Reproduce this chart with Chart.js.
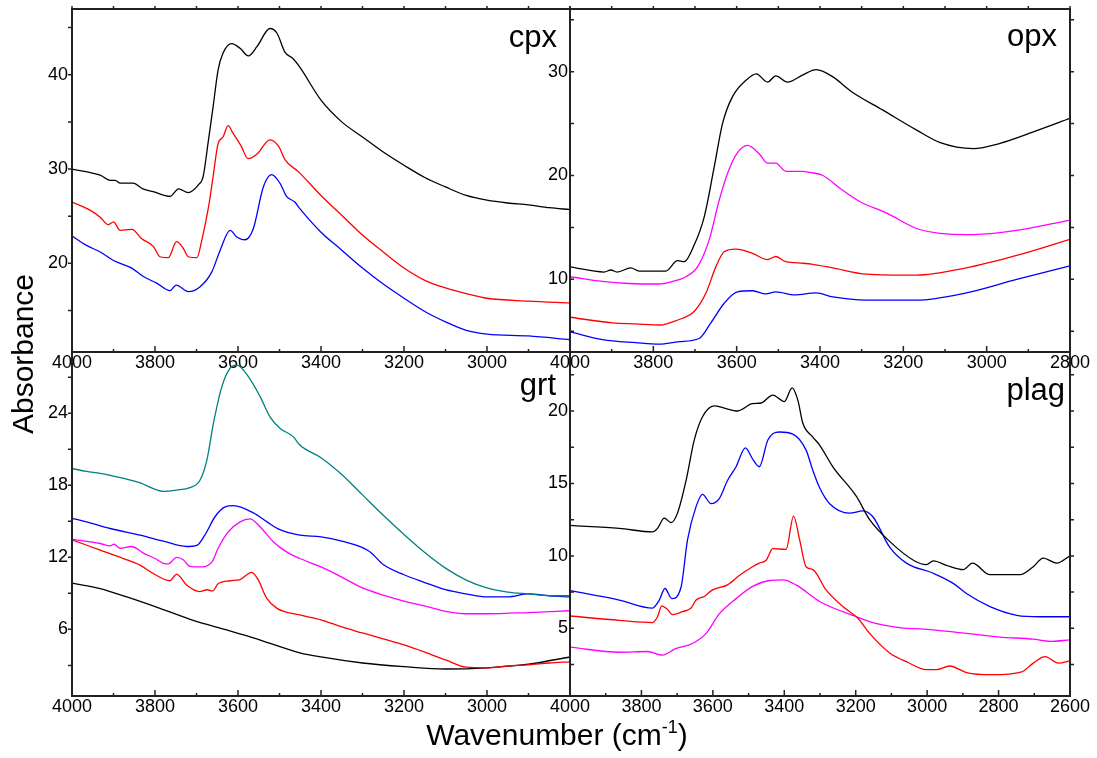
<!DOCTYPE html>
<html>
<head>
<meta charset="utf-8">
<script src="https://cdn.jsdelivr.net/npm/chart.js@4.4.0/dist/chart.umd.min.js"></script>
<style>
  html, body { margin: 0; padding: 0; background: #fff; }
  #wrap { position: relative; width: 1097px; height: 758px; overflow: hidden;
          font-family: "Liberation Sans", Arial, sans-serif; color: #000; }
  #wrap canvas { position: absolute; left: 0; top: 0; }
  .tag { position: absolute; font-size: 31px; line-height: 31px; white-space: nowrap; z-index: 5; }
  .title { position: absolute; font-size: 30px; line-height: 30px; white-space: nowrap; text-align: center; z-index: 5; }
</style>
</head>
<body>
<div id="wrap">
  <canvas id="cCpx" width="1097" height="758"></canvas>
  <canvas id="cOpx" width="1097" height="758"></canvas>
  <canvas id="cGrt" width="1097" height="758"></canvas>
  <canvas id="cPlag" width="1097" height="758"></canvas>
  <div class="tag" style="right:540px; top:21px;">cpx</div>
  <div class="tag" style="right:40px; top:20px;">opx</div>
  <div class="tag" style="right:541px; top:369px;">grt</div>
  <div class="tag" style="right:32px; top:374px;">plag</div>
  <div class="title" style="left:-77px; top:339px; width:200px; transform:rotate(-90deg);">Absorbance</div>
  <div class="title" style="left:357px; top:720px; width:400px;">Wavenumber (cm<span style="font-size:18px; position:relative; top:-12px;">-1</span>)</div>
</div>
<script>
// ---- cpx ----
const cpxBlackWn = [4000, 3932, 3908, 3896, 3884, 3853, 3829, 3804, 3764, 3743, 3720, 3696, 3684, 3672, 3660, 3648, 3636, 3615, 3595, 3575, 3554, 3523, 3506, 3487, 3467, 3451, 3400, 3350, 3300, 3250, 3200, 3150, 3100, 3050, 3000, 2950, 2900, 2850, 2800];
const cpxBlackA  = [30.0, 29.35, 28.8, 28.8, 28.5, 28.5, 27.9, 27.6, 27.1, 27.9, 27.5, 28.3, 29.2, 32.8, 36.6, 40.5, 42.3, 43.3, 42.8, 42.0, 43.0, 44.9, 44.4, 42.4, 41.7, 40.8, 37.3, 35.0, 33.4, 31.8, 30.4, 29.1, 28.1, 27.2, 26.7, 26.4, 26.2, 25.9, 25.7];
const cpxRedWn = [4000, 3957, 3932, 3913, 3900, 3884, 3856, 3832, 3804, 3788, 3768, 3748, 3732, 3720, 3699, 3687, 3671, 3660, 3648, 3636, 3624, 3612, 3592, 3576, 3554, 3523, 3502, 3487, 3454, 3400, 3350, 3300, 3250, 3200, 3150, 3100, 3050, 3000, 2900, 2800];
const cpxRedA  = [26.5, 25.65, 24.9, 24.1, 24.4, 23.5, 23.6, 22.6, 21.8, 20.7, 20.6, 22.3, 21.6, 20.7, 20.6, 22.5, 26.0, 29.2, 32.7, 33.4, 34.6, 33.8, 32.4, 31.1, 31.6, 33.1, 32.4, 31.0, 29.7, 27.2, 25.1, 23.0, 21.2, 19.5, 18.2, 17.4, 16.8, 16.3, 16.0, 15.8];
const cpxBlueWn = [4000, 3965, 3932, 3900, 3856, 3828, 3796, 3764, 3749, 3720, 3692, 3663, 3643, 3619, 3603, 3583, 3563, 3539, 3519, 3499, 3483, 3463, 3451, 3400, 3350, 3300, 3250, 3200, 3150, 3100, 3050, 3000, 2900, 2800];
const cpxBlueA  = [22.9, 21.9, 21.2, 20.3, 19.5, 18.6, 17.9, 17.1, 17.7, 17.0, 17.5, 19.1, 21.4, 23.5, 22.8, 22.5, 23.7, 28.1, 29.4, 28.5, 27.1, 26.5, 25.8, 23.3, 21.4, 19.5, 17.8, 16.3, 14.9, 13.8, 12.9, 12.5, 12.3, 11.9];

// ---- opx ----
const opxBlackWn = [4000, 3918, 3902, 3887, 3854, 3834, 3798, 3770, 3742, 3726, 3702, 3678, 3654, 3634, 3610, 3577, 3553, 3526, 3506, 3478, 3441, 3409, 3369, 3325, 3249, 3169, 3113, 3032, 2968, 2888, 2800];
const opxBlackA  = [11.2, 10.7, 10.9, 10.7, 11.1, 10.8, 10.8, 10.8, 11.8, 11.7, 13.3, 16.0, 20.8, 25.0, 27.6, 29.2, 29.8, 29.0, 29.6, 29.0, 29.7, 30.2, 29.5, 28.1, 26.3, 24.4, 23.2, 22.6, 23.1, 24.2, 25.5];
const opxMagWn = [4000, 3922, 3858, 3786, 3754, 3722, 3694, 3666, 3642, 3622, 3598, 3574, 3546, 3526, 3506, 3482, 3441, 3425, 3393, 3353, 3305, 3241, 3161, 3049, 2968, 2888, 2800];
const opxMagA  = [10.25, 9.8, 9.6, 9.55, 9.8, 10.25, 11.2, 13.8, 17.6, 20.2, 22.2, 22.9, 22.1, 21.2, 21.2, 20.4, 20.4, 20.3, 20.0, 18.8, 17.5, 16.4, 14.8, 14.3, 14.5, 15.0, 15.7];
const opxRedWn = [4000, 3898, 3842, 3782, 3754, 3730, 3702, 3674, 3650, 3630, 3602, 3562, 3526, 3506, 3482, 3441, 3417, 3369, 3289, 3169, 3049, 2928, 2800];
const opxRedA  = [6.35, 5.8, 5.7, 5.6, 5.9, 6.25, 6.9, 8.65, 11.2, 12.65, 12.9, 12.5, 11.9, 12.2, 11.7, 11.55, 11.45, 11.1, 10.5, 10.4, 11.1, 12.3, 13.85];
const opxBlueWn = [4000, 3922, 3842, 3786, 3738, 3690, 3662, 3630, 3598, 3562, 3530, 3506, 3461, 3409, 3369, 3289, 3169, 3049, 2928, 2800];
const opxBlueA  = [4.95, 4.2, 3.9, 3.75, 4.0, 4.3, 5.8, 7.7, 8.8, 8.9, 8.6, 8.8, 8.5, 8.7, 8.3, 8.0, 8.0, 8.7, 10.0, 11.3];

// ---- grt ----
const grtTealWn = [4000, 3965, 3932, 3892, 3836, 3780, 3748, 3716, 3692, 3675, 3659, 3639, 3619, 3603, 3575, 3547, 3523, 3499, 3467, 3451, 3400, 3350, 3300, 3250, 3200, 3150, 3100, 3050, 3000, 2950, 2900, 2850, 2800];
const grtTealA  = [19.4, 19.15, 19.0, 18.7, 18.2, 17.5, 17.6, 17.8, 18.4, 20.1, 23.2, 26.2, 27.75, 28.0, 27.05, 25.4, 23.7, 22.75, 22.05, 21.35, 20.3, 18.9, 17.2, 15.5, 13.9, 12.4, 11.1, 10.1, 9.45, 9.1, 8.95, 8.8, 8.8];
const grtBlueWn = [4000, 3965, 3908, 3836, 3780, 3724, 3699, 3680, 3655, 3631, 3611, 3563, 3530, 3499, 3451, 3400, 3350, 3300, 3280, 3250, 3200, 3150, 3100, 3050, 3000, 2950, 2900, 2850, 2800];
const grtBlueA  = [15.25, 14.95, 14.4, 13.85, 13.35, 12.9, 13.0, 13.85, 15.4, 16.2, 16.3, 15.7, 14.95, 14.3, 13.85, 13.7, 13.35, 12.8, 12.4, 11.4, 10.55, 9.9, 9.3, 8.95, 8.7, 8.7, 8.95, 8.8, 8.7];
const grtMagWn = [4000, 3932, 3908, 3899, 3884, 3856, 3828, 3800, 3780, 3768, 3748, 3732, 3716, 3692, 3663, 3648, 3624, 3595, 3571, 3547, 3515, 3483, 3451, 3400, 3350, 3300, 3250, 3200, 3150, 3100, 3050, 3000, 2900, 2800];
const grtMagA  = [13.5, 13.15, 12.95, 13.1, 12.75, 12.9, 12.35, 11.9, 11.5, 11.45, 12.0, 11.8, 11.25, 11.2, 11.6, 12.75, 14.1, 14.95, 15.2, 14.55, 13.3, 12.45, 11.9, 11.2, 10.35, 9.45, 8.85, 8.35, 7.95, 7.5, 7.3, 7.3, 7.4, 7.55];
const grtRedWn = [4000, 3932, 3876, 3836, 3804, 3764, 3748, 3724, 3692, 3675, 3661, 3648, 3619, 3595, 3567, 3551, 3531, 3506, 3451, 3400, 3350, 3300, 3250, 3200, 3150, 3100, 3050, 3000, 2950, 2900, 2850, 2800];
const grtRedA  = [13.45, 12.6, 11.9, 11.35, 10.65, 10.05, 10.6, 9.7, 9.15, 9.3, 9.2, 9.8, 10.05, 10.15, 10.75, 10.1, 8.6, 7.75, 7.2, 6.8, 6.2, 5.7, 5.2, 4.7, 4.1, 3.45, 2.85, 2.8, 2.95, 3.05, 3.2, 3.3];
const grtBlackWn = [4000, 3932, 3868, 3788, 3708, 3627, 3563, 3451, 3400, 3300, 3200, 3100, 3000, 2900, 2800];
const grtBlackA  = [9.85, 9.4, 8.7, 7.75, 6.75, 5.95, 5.3, 4.05, 3.7, 3.2, 2.9, 2.7, 2.8, 3.1, 3.7];

// ---- plag ----
const plagBlackWn = [4000, 3862, 3769, 3755, 3736, 3717, 3699, 3675, 3652, 3629, 3596, 3568, 3531, 3489, 3465, 3432, 3400, 3378, 3362, 3348, 3320, 3301, 3264, 3198, 3161, 3105, 3035, 3002, 2983, 2946, 2899, 2873, 2824, 2740, 2703, 2675, 2637, 2600];
const plagBlackA  = [12.1, 11.9, 11.65, 11.9, 12.6, 12.3, 12.95, 15.2, 18.0, 19.6, 20.35, 20.2, 20.0, 20.5, 20.55, 21.1, 20.65, 21.6, 20.75, 19.15, 18.2, 17.65, 16.15, 14.1, 12.5, 11.0, 9.65, 9.4, 9.65, 9.35, 9.05, 9.5, 8.7, 8.7, 9.25, 9.85, 9.5, 10.0];
const plagBlueWn = [4000, 3862, 3769, 3750, 3734, 3715, 3689, 3671, 3647, 3629, 3605, 3582, 3559, 3535, 3509, 3489, 3470, 3446, 3414, 3376, 3339, 3320, 3301, 3273, 3217, 3180, 3152, 3105, 3058, 2983, 2927, 2890, 2824, 2749, 2684, 2600];
const plagBlueA  = [7.6, 6.95, 6.4, 6.95, 7.75, 7.05, 7.85, 11.1, 13.4, 14.25, 13.6, 13.95, 15.2, 16.15, 17.45, 16.7, 16.15, 18.0, 18.55, 18.4, 17.3, 15.9, 14.7, 13.6, 12.95, 13.1, 12.7, 10.6, 9.5, 8.8, 8.1, 7.4, 6.5, 5.9, 5.8, 5.8];
const plagRedWn = [4000, 3862, 3769, 3755, 3743, 3727, 3713, 3685, 3661, 3647, 3624, 3601, 3559, 3526, 3489, 3470, 3451, 3432, 3395, 3374, 3357, 3339, 3320, 3283, 3236, 3194, 3161, 3105, 3058, 3002, 2974, 2937, 2890, 2820, 2735, 2703, 2670, 2633, 2600];
const plagRedA  = [5.85, 5.55, 5.4, 5.8, 6.55, 6.3, 5.95, 6.15, 6.4, 6.95, 7.2, 7.65, 8.0, 8.65, 9.25, 9.5, 9.7, 10.5, 10.45, 12.75, 11.1, 9.25, 9.05, 7.65, 6.5, 5.7, 4.65, 3.3, 2.7, 2.15, 2.15, 2.4, 1.95, 1.8, 2.0, 2.6, 3.05, 2.6, 2.75];
const plagMagWn = [4000, 3862, 3783, 3741, 3704, 3657, 3619, 3582, 3535, 3489, 3442, 3404, 3367, 3301, 3198, 3152, 3077, 2983, 2890, 2796, 2703, 2656, 2600];
const plagMagA  = [3.7, 3.35, 3.4, 3.15, 3.6, 3.95, 4.65, 6.0, 7.05, 7.9, 8.3, 8.35, 8.0, 6.85, 5.8, 5.4, 5.05, 4.9, 4.65, 4.4, 4.25, 4.1, 4.2];

const FONT = '"Liberation Sans", Arial, sans-serif';
const XH = 30, YW = 50;   // fixed axis box sizes so the plot areas line up

// frame + tick marks drawn from the chart's own scales
const framePlugin = {
  id: 'frame',
  afterDraw(chart, args, o) {
    const {ctx, chartArea: a} = chart;
    const xs = chart.scales.x, ys = chart.scales.y;
    ctx.save();
    ctx.strokeStyle = '#222';
    ctx.lineWidth = 1.5;
    ctx.beginPath();
    for (let v = Math.ceil(xs.min / 100) * 100; v <= xs.max; v += 100) {
      const px = xs.getPixelForValue(v);
      const len = v % 200 === 0 ? 6 : 3;
      ctx.moveTo(px, a.bottom); ctx.lineTo(px, a.bottom - len);
      if (o.topTicks) { ctx.moveTo(px, a.top); ctx.lineTo(px, a.top - 3); }
    }
    for (let v = Math.ceil(ys.min / o.yMinor) * o.yMinor; v <= ys.max; v += o.yMinor) {
      const py = ys.getPixelForValue(v);
      ctx.moveTo(a.left, py); ctx.lineTo(a.left + o.leftDir * 4, py);
      if (o.rightTicks) { ctx.moveTo(a.right, py); ctx.lineTo(a.right + 4, py); }
    }
    ctx.stroke();
    ctx.lineWidth = 2;
    ctx.strokeRect(a.left, a.top, a.right - a.left, a.bottom - a.top);
    ctx.restore();
  }
};

function series(wn, vals, color) {
  return {
    data: wn.map((w, i) => ({x: w, y: vals[i]})),
    borderColor: color,
    borderWidth: 1.3,
    pointRadius: 0,
    fill: false,
    cubicInterpolationMode: 'monotone'
  };
}

function makePanel(id, p) {
  const [l, t, r, b] = p.box;
  return new Chart(document.getElementById(id), {
    type: 'line',
    data: {datasets: p.datasets},
    plugins: [framePlugin],
    options: {
      responsive: false,
      animation: false,
      devicePixelRatio: 1,
      events: [],
      layout: {padding: {left: l - YW, right: 1097 - r, top: t, bottom: 758 - b - XH}},
      plugins: {
        legend: {display: false},
        tooltip: {enabled: false},
        frame: {yMinor: p.yMinor, leftDir: p.leftDir, topTicks: p.topTicks, rightTicks: p.rightTicks}
      },
      scales: {
        x: {
          type: 'linear', reverse: true, min: p.xRange[0], max: p.xRange[1],
          grid: {display: false, drawTicks: false}, border: {display: false},
          afterFit(s) { s.height = XH; s.paddingLeft = 0; s.paddingRight = 0; },
          ticks: {
            stepSize: 200, includeBounds: false, autoSkip: false, maxRotation: 0, padding: 0,
            color: '#000', font: {family: FONT, size: 18},
            callback: v => (p.hideX.includes(v) ? '' : String(v))
          }
        },
        y: {
          type: 'linear', min: p.yRange[0], max: p.yRange[1],
          grid: {display: false, drawTicks: false}, border: {display: false},
          afterFit(s) { s.width = YW; s.paddingTop = 0; s.paddingBottom = 0; },
          ticks: {
            stepSize: p.yStep, includeBounds: false, padding: p.yPad,
            color: '#000', font: {family: FONT, size: 18},
            callback: v => String(v)
          }
        }
      }
    }
  });
}

makePanel('cCpx', {
  box: [72, 9, 570, 352], xRange: [2800, 4000], yRange: [10.6, 46.97], yStep: 10, yMinor: 5,
  hideX: [2800], leftDir: -1, topTicks: true, rightTicks: false, yPad: 4,
  datasets: [
    series(cpxBlackWn, cpxBlackA, '#000000'),
    series(cpxRedWn, cpxRedA, '#ff0000'),
    series(cpxBlueWn, cpxBlueA, '#0000ff')
  ]
});

makePanel('cOpx', {
  box: [570, 9, 1070, 352], xRange: [2800, 4000], yRange: [3.0, 36.04], yStep: 10, yMinor: 5,
  hideX: [], leftDir: 1, topTicks: true, rightTicks: true, yPad: 2,
  datasets: [
    series(opxBlackWn, opxBlackA, '#000000'),
    series(opxMagWn, opxMagA, '#ff00ff'),
    series(opxRedWn, opxRedA, '#ff0000'),
    series(opxBlueWn, opxBlueA, '#0000ff')
  ]
});

makePanel('cGrt', {
  box: [72, 352, 570, 696], xRange: [2800, 4000], yRange: [0.45, 29.1], yStep: 6, yMinor: 3,
  hideX: [2800], leftDir: -1, topTicks: false, rightTicks: false, yPad: 4,
  datasets: [
    series(grtTealWn, grtTealA, '#008080'),
    series(grtBlueWn, grtBlueA, '#0000ff'),
    series(grtMagWn, grtMagA, '#ff00ff'),
    series(grtRedWn, grtRedA, '#ff0000'),
    series(grtBlackWn, grtBlackA, '#000000')
  ]
});

makePanel('cPlag', {
  box: [570, 352, 1070, 696], xRange: [2600, 4000], yRange: [0.33, 24.07], yStep: 5, yMinor: 2.5,
  hideX: [], leftDir: 1, topTicks: false, rightTicks: true, yPad: 2,
  datasets: [
    series(plagBlackWn, plagBlackA, '#000000'),
    series(plagBlueWn, plagBlueA, '#0000ff'),
    series(plagRedWn, plagRedA, '#ff0000'),
    series(plagMagWn, plagMagA, '#ff00ff')
  ]
});
</script>
</body>
</html>
